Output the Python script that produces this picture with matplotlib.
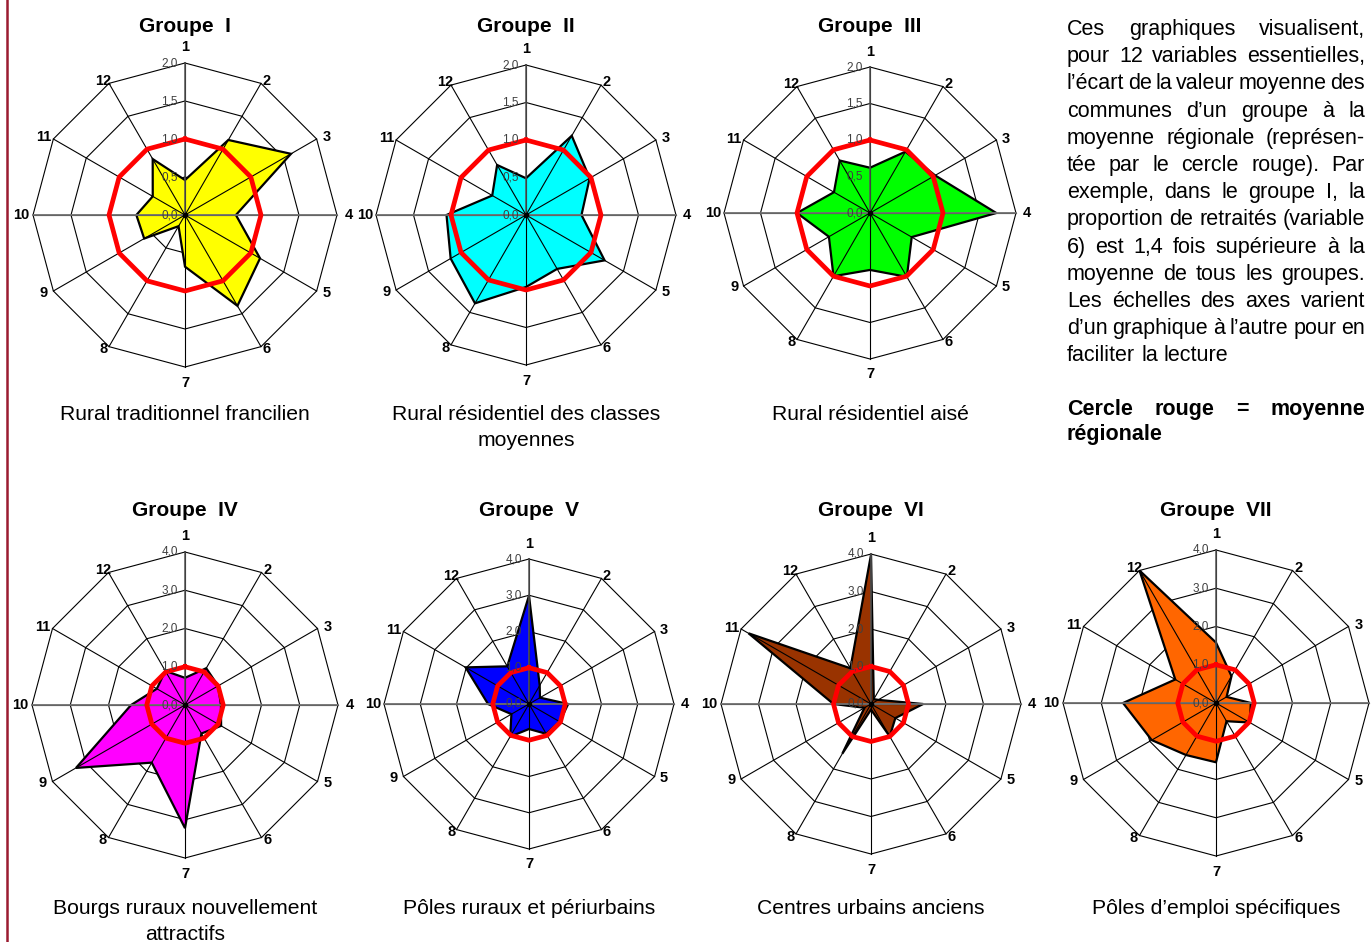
import numpy as np
import matplotlib
matplotlib.use("Agg")
import matplotlib.pyplot as plt

plt.rcParams['font.family'] = ['Liberation Sans', 'DejaVu Sans']

# --- data ---
variables = ['1', '2', '3', '4', '5', '6', '7', '8', '9', '10', '11', '12']

groupe_1 = [0.46, 1.14, 1.61, 0.67, 1.14, 1.38, 0.68, 0.17, 0.62, 0.64, 0.49, 0.85]
groupe_2 = [0.49, 1.22, 0.98, 0.74, 1.21, 0.83, 0.96, 1.36, 1.16, 1.06, 0.52, 0.77]
groupe_3 = [0.62, 0.97, 1.03, 1.73, 0.66, 1.01, 0.78, 1.00, 0.65, 1.00, 0.57, 0.83]
groupe_4 = [0.71, 1.11, 1.00, 0.94, 1.09, 0.86, 3.22, 1.74, 3.29, 1.41, 0.85, 1.03]
groupe_5 = [2.99, 0.59, 0.35, 1.08, 0.98, 0.95, 0.69, 1.04, 0.56, 1.13, 2.02, 1.20]
groupe_6 = [3.98, 0.15, 0.22, 1.39, 0.75, 1.00, 0.15, 1.53, 0.20, 1.00, 3.77, 1.10]
groupe_7 = [1.58, 0.81, 0.32, 0.91, 1.02, 0.55, 1.55, 1.57, 1.94, 2.43, 1.23, 4.00]
moyenne_regionale = [1.0] * 12

titres = ['Groupe  I', 'Groupe  II', 'Groupe  III', 'Groupe  IV',
          'Groupe  V', 'Groupe  VI', 'Groupe  VII']
sous_titres = ['Rural traditionnel francilien',
               'Rural résidentiel des classes\nmoyennes',
               'Rural résidentiel aisé',
               'Bourgs ruraux nouvellement\nattractifs',
               'Pôles ruraux et périurbains',
               'Centres urbains anciens',
               'Pôles d’emploi spécifiques']
echelle_haut = [0.0, 0.5, 1.0, 1.5, 2.0]
echelle_bas = [0.0, 1.0, 2.0, 3.0, 4.0]

texte = ["Ces graphiques visualisent,",
         "pour 12 variables essentielles,",
         "l’écart de la valeur moyenne des",
         "communes d’un groupe à la",
         "moyenne régionale (représen-",
         "tée par le cercle rouge). Par",
         "exemple, dans le groupe I, la",
         "proportion de retraités (variable",
         "6) est 1,4 fois supérieure à la",
         "moyenne de tous les groupes.",
         "Les échelles des axes varient",
         "d’un graphique à l’autre pour en",
         "faciliter la lecture"]
legende = ["Cercle rouge = moyenne", "régionale"]

W, H = 1372, 942
fig = plt.figure(figsize=(W / 100, H / 100), dpi=100)
fig.patch.set_facecolor('white')


def radar(cx, cy, rpx, values, ticks, color, title, subtitle, ty, sy):
    size = 400
    ax = fig.add_axes([(cx - size / 2) / W, 1 - (cy + size / 2) / H, size / W, size / H])
    rmax = ticks[-1]
    lim = rmax * (size / 2) / rpx
    ax.set_xlim(-lim, lim)
    ax.set_ylim(-lim, lim)
    ax.axis('off')

    theta = np.deg2rad(np.arange(12) * 30)
    s, c = np.sin(theta), np.cos(theta)
    px = rmax / rpx  # data units per pixel

    # rings
    for t in ticks[1:]:
        ax.plot(np.append(t * s, t * s[0]), np.append(t * c, t * c[0]),
                color='black', lw=0.8, zorder=1)

    v = np.array(values)
    ax.fill(v * s, v * c, facecolor=color, edgecolor='black', lw=1.6,
            joinstyle='miter', zorder=2)

    # spokes
    for k in range(12):
        ax.plot([0, rmax * s[k]], [0, rmax * c[k]], color='black', lw=0.8, zorder=3)
    ax.plot([-rmax, rmax], [0, 0], color='#707070', lw=1.3, zorder=3)
    ax.plot([0, 0], [0, rmax], color='#555555', lw=1.1, zorder=3)

    m = np.array(moyenne_regionale)
    ax.plot(np.append(m * s, m[0] * s[0]), np.append(m * c, m[0] * c[0]),
            color='#ff0000', lw=3.4, solid_joinstyle='miter', zorder=4)
    ax.plot([0], [0], 'o', color='black', ms=3, zorder=5)

    for t in ticks:
        ax.text(-7 * px, t, f"{t:.1f}".replace('.', ','), ha='right', va='center',
                fontsize=8.5, color='#404040', zorder=6)

    for k, lab in enumerate(variables):
        fy = 1.105 if k in (0, 6) else 1.02
        ax.text(1.075 * rmax * s[k], fy * rmax * c[k], lab, ha='center', va='center',
                fontsize=10.5, fontweight='bold', zorder=6)

    fig.text(cx / W, 1 - ty / H, title, ha='center', va='baseline',
             fontsize=15, fontweight='bold')
    for i, part in enumerate(subtitle.split('\n')):
        fig.text(cx / W, 1 - (sy + 26 * i) / H, part, ha='center', va='center',
                 fontsize=15.2)


radar(185, 215, 152, groupe_1, echelle_haut, '#ffff00', titres[0], sous_titres[0], 32, 415)
radar(526, 215, 150, groupe_2, echelle_haut, '#00ffff', titres[1], sous_titres[1], 32, 415)
radar(870, 213, 146, groupe_3, echelle_haut, '#00ff00', titres[2], sous_titres[2], 32, 415)
radar(185, 705, 153, groupe_4, echelle_bas, '#ff00ff', titres[3], sous_titres[3], 516, 908)
radar(529, 704, 145, groupe_5, echelle_bas, '#0000ff', titres[4], sous_titres[4], 516, 908)
radar(871, 704, 150, groupe_6, echelle_bas, '#993300', titres[5], sous_titres[5], 516, 908)
radar(1216, 703, 153, groupe_7, echelle_bas, '#ff6600', titres[6], sous_titres[6], 516, 908)

# justified text block on the right
renderer = fig.canvas.get_renderer()


def measure(s, **kw):
    t = fig.text(0, 0, s, **kw)
    w_ = t.get_window_extent(renderer).width
    t.remove()
    return w_


def justify(line, x0, x1, y, last=False, size=15.5, **kw):
    words = line.split()
    widths = [measure(w_, fontsize=size, **kw) for w_ in words]
    space = measure('a a', fontsize=size, **kw) - measure('aa', fontsize=size, **kw)
    natural = sum(widths) + 0.55 * space * (len(words) - 1)
    if natural > x1 - x0:
        size = size * (x1 - x0) / natural
        widths = [measure(w_, fontsize=size, **kw) for w_ in words]
        space = measure('a a', fontsize=size, **kw) - measure('aa', fontsize=size, **kw)
    if last or len(words) == 1:
        gap = space
    else:
        gap = (x1 - x0 - sum(widths)) / (len(words) - 1)
    x = x0
    for w_, wd in zip(words, widths):
        fig.text(x / W, 1 - y / H, w_, va='baseline', ha='left', fontsize=size, **kw)
        x += wd + gap


for i, line in enumerate(texte):
    justify(line, 1067, 1365, 35 + 27.2 * i, last=(i == len(texte) - 1))

justify(legende[0], 1067, 1365, 415, fontweight='bold')
justify(legende[1], 1067, 1365, 440, last=True, fontweight='bold')

fig.add_artist(plt.Line2D([7 / W, 7 / W], [0, 1], transform=fig.transFigure,
                          color='#9b1b30', lw=1.8))

fig.savefig('out.png', dpi=100)
